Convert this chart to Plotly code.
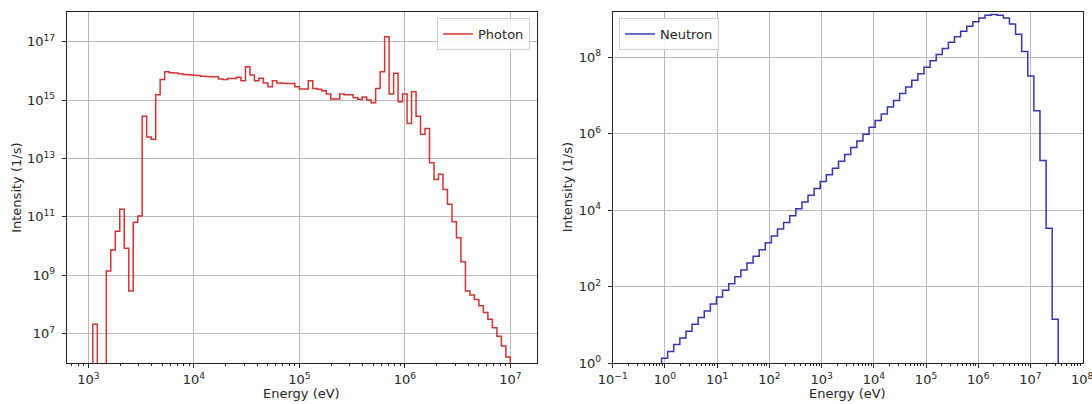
import numpy as np
import plotly.graph_objects as go

# ---------------- data ----------------
# Photon spectrum: 94 log-uniform bins between 1 keV and 10 MeV
photon_e_min, photon_e_max, photon_n_bins = 1e3, 1e7, 94
# log10 of intensity (1/s) per bin, None = empty bin
photon_log10_intensity = [
    None, 7.32, None, None, 9.14, 9.86, 10.51, 11.26, 9.92, 8.46,
    10.81, 11.03, 14.45, 13.74, 13.66, 15.18, 15.71, 15.97, 15.94, 15.93,
    15.90, 15.88, 15.87, 15.85, 15.84, 15.82, 15.81, 15.80, 15.80, 15.72,
    15.71, 15.74, 15.74, 15.78, 15.66, 16.14, 15.86, 15.66, 15.75, 15.59,
    15.46, 15.66, 15.59, 15.58, 15.57, 15.57, 15.46, 15.38, 15.38, 15.66,
    15.40, 15.37, 15.32, 15.21, 15.04, 15.04, 15.21, 15.18, 15.18, 15.08,
    15.03, 15.11, 15.00, 14.91, 15.40, 15.97, 17.17, 15.21, 15.92, 14.94,
    15.21, 14.20, 15.29, 14.45, 13.83, 14.03, 12.85, 12.28, 12.46, 11.94,
    11.43, 10.83, 10.28, 9.46, 8.46, 8.32, 8.17, 7.95, 7.72, 7.49,
    7.20, 6.91, 6.57, 6.20,
]

# Neutron spectrum: 77 log-uniform bins between 0.1 eV and 100 MeV
neutron_e_min, neutron_e_max, neutron_n_bins = 1e-1, 1e8, 77
neutron_log10_intensity = [None] * 8 + [
    0.13, 0.31, 0.49, 0.66, 0.84, 1.02, 1.20, 1.37, 1.55, 1.73,
    1.91, 2.08, 2.26, 2.44, 2.62, 2.80, 2.97, 3.15, 3.33, 3.51,
    3.68, 3.86, 4.04, 4.22, 4.39, 4.57, 4.75, 4.93, 5.10, 5.28,
    5.46, 5.64, 5.81, 5.99, 6.17, 6.35, 6.52, 6.70, 6.87, 7.05,
    7.22, 7.40, 7.57, 7.74, 7.91, 8.07, 8.23, 8.39, 8.54, 8.68,
    8.81, 8.93, 9.03, 9.10, 9.12, 9.10, 9.03, 8.87, 8.60, 8.15,
    7.51, 6.60, 5.30, 3.53, 1.15,
] + [None] * 4

# tick labels
photon_x_ticks = [1e3, 1e4, 1e5, 1e6, 1e7]
photon_y_ticks = [1e7, 1e9, 1e11, 1e13, 1e15, 1e17]
neutron_x_ticks = [1e-1, 1e0, 1e1, 1e2, 1e3, 1e4, 1e5, 1e6, 1e7, 1e8]
neutron_y_ticks = [1e0, 1e2, 1e4, 1e6, 1e8]

PHOTON_COLOR = "#d03535"
NEUTRON_COLOR = "#3535b0"
FONT = "DejaVu Sans"
TEXT = "#262626"
FLOOR = 1e-30


def sup_label(v):
    e = int(round(np.log10(v)))
    s = str(e).replace("-", "\u2212")
    return f"10<sup>{s}</sup>"


def step_xy(e_min, e_max, n, log_vals):
    edges = np.logspace(np.log10(e_min), np.log10(e_max), n + 1)
    vals = [10 ** v if v is not None else FLOOR for v in log_vals]
    xs = [edges[0]] + list(edges[:-1]) + [edges[-1], edges[-1]]
    ys = [FLOOR] + vals + [vals[-1], FLOOR]
    return xs, ys


def minor_vals(lo, hi):
    out = []
    for d in range(lo, hi):
        for m in range(2, 10):
            out.append(m * 10.0 ** d)
    return out


px, py = step_xy(photon_e_min, photon_e_max, photon_n_bins, photon_log10_intensity)
nx, ny = step_xy(neutron_e_min, neutron_e_max, neutron_n_bins, neutron_log10_intensity)

fig = go.Figure()
fig.add_trace(go.Scatter(x=px, y=py, mode="lines", line=dict(color=PHOTON_COLOR, width=1.5, shape="hv"),
                         name="Photon", xaxis="x", yaxis="y", legend="legend", showlegend=True))
fig.add_trace(go.Scatter(x=nx, y=ny, mode="lines", line=dict(color=NEUTRON_COLOR, width=1.5, shape="hv"),
                         name="Neutron", xaxis="x2", yaxis="y2", legend="legend2", showlegend=True))

tickfont = dict(family=FONT, size=13, color=TEXT)
common = dict(type="log", showline=True, mirror=True, linecolor="#222222", linewidth=1.2,
              ticks="outside", ticklen=4, tickwidth=1, tickcolor="#222222",
              showgrid=True, gridcolor="#b8b8b8", gridwidth=1, zeroline=False,
              tickfont=tickfont, tickmode="array", automargin=False)

X1 = [66.7 / 1092, 536.7 / 1092]
X2 = [612.7 / 1092, 1082.7 / 1092]
YD = [(404 - 363.3) / 404, (404 - 12.3) / 404]

legend_style = dict(bgcolor="rgba(255,255,255,0.85)", bordercolor="#d0d0d0", borderwidth=1,
                    font=dict(family=FONT, size=13, color=TEXT), yanchor="top")

fig.update_layout(
    width=1092, height=404,
    margin=dict(l=0, r=0, t=0, b=0),
    paper_bgcolor="white", plot_bgcolor="white",
    showlegend=True,
    font=dict(family=FONT, size=13, color=TEXT),
    xaxis=dict(common, domain=X1, anchor="y", range=[2.795, 7.25],
               tickvals=photon_x_ticks, ticktext=[sup_label(v) for v in photon_x_ticks],
               minor=dict(ticks="outside", ticklen=2, tickcolor="#222222", showgrid=False,
                          tickmode="array", tickvals=minor_vals(2, 8))),
    yaxis=dict(common, domain=YD, anchor="x", range=[5.98, 18.01], ticklabelstandoff=4,
               tickvals=photon_y_ticks, ticktext=[sup_label(v) for v in photon_y_ticks]),
    xaxis2=dict(common, domain=X2, anchor="y2", range=[-1.0001, 8.0001],
                tickvals=neutron_x_ticks[:-1], ticktext=[sup_label(v) for v in neutron_x_ticks[:-1]],
                minor=dict(ticks="outside", ticklen=2, tickcolor="#222222", showgrid=False,
                           tickmode="array", tickvals=minor_vals(-1, 8))),
    yaxis2=dict(common, domain=YD, anchor="x2", range=[0, 9.176], ticklabelstandoff=4,
                tickvals=neutron_y_ticks, ticktext=[sup_label(v) for v in neutron_y_ticks]),
    legend=dict(legend_style, x=530 / 1092, y=(404 - 18) / 404, xanchor="right"),
    legend2=dict(legend_style, x=619 / 1092, y=(404 - 18) / 404, xanchor="left"),
    annotations=[
        dict(text="Energy (eV)", xref="paper", yref="paper", x=sum(X1) / 2, y=(404 - 393) / 404,
             showarrow=False, xanchor="center", yanchor="middle", font=dict(size=13)),
        dict(text="Energy (eV)", xref="paper", yref="paper", x=sum(X2) / 2, y=(404 - 393) / 404,
             showarrow=False, xanchor="center", yanchor="middle", font=dict(size=13)),
        dict(text="Intensity (1/s)", xref="paper", yref="paper", x=17 / 1092, y=sum(YD) / 2,
             showarrow=False, textangle=-90, xanchor="center", yanchor="middle", font=dict(size=13)),
        dict(text="Intensity (1/s)", xref="paper", yref="paper", x=567.5 / 1092, y=sum(YD) / 2,
             showarrow=False, textangle=-90, xanchor="center", yanchor="middle", font=dict(size=13)),
        # last x tick label of the neutron panel, cut by the figure edge as in the reference
        dict(text=sup_label(neutron_x_ticks[-1]), xref="x2", yref="paper",
             x=np.log10(neutron_x_ticks[-1]), y=(404 - 369) / 404,
             showarrow=False, xanchor="center", yanchor="top", font=tickfont),
    ],
)

fig.write_html("out.html")
